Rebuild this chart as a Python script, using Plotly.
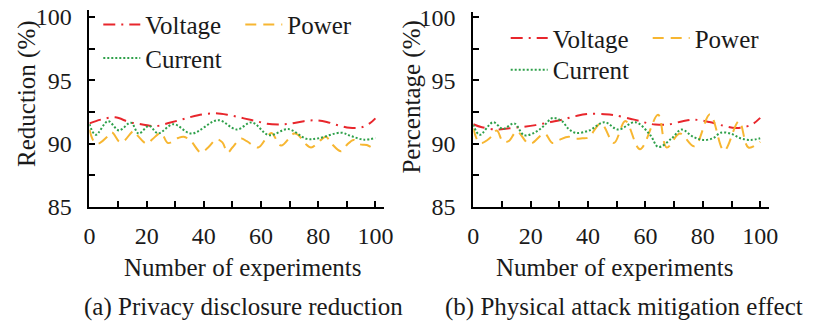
import plotly.graph_objects as go

W, H = 821, 328

# ---------------- data: panel (a) Privacy disclosure reduction ----------------
volt_a_x = [0, 4, 9, 14, 19, 23, 28, 33, 38, 44, 49, 54, 58, 62, 66, 70, 75, 79, 83, 87, 91, 95, 98, 100]
volt_a_y = [91.6, 91.9, 92.08, 91.7, 91.5, 91.38, 91.65, 91.95, 92.25, 92.4, 92.25, 92.0, 91.8, 91.58,
            91.52, 91.57, 91.78, 91.85, 91.72, 91.45, 91.25, 91.28, 91.6, 92.0]

cur_a_x = [0, 2.2, 6.5, 10.3, 14.5, 17.2, 20.8, 24, 29.4, 35.7, 45, 51.5, 56.8, 62.8, 69.5, 76, 80, 88,
           91.5, 96, 100]
cur_a_y = [91.54, 90.7, 91.78, 91.05, 91.66, 90.8, 91.41, 90.82, 91.54, 90.8, 91.86, 91.12, 91.68, 90.67,
           91.15, 90.38, 90.42, 90.87, 90.6, 90.32, 90.45]

pow_a_x = [0, 1.5, 3, 6, 7.8, 10.5, 12, 15.5, 17, 20, 22, 25, 27.5, 31, 33, 35.5, 39, 41.5, 44.5, 46.5,
           48.3, 50, 53, 55, 59, 62, 63.7, 67, 71.5, 73, 75.5, 77.5, 80, 82.7, 84.5, 88, 90, 92.4, 94.7,
           97, 100]
pow_a_y = [91.1, 90.2, 90.0, 90.5, 90.9, 90.15, 90.2, 91.0, 90.6, 90.0, 90.35, 90.85, 90.05, 90.45,
           90.55, 90.2, 89.3, 89.7, 90.35, 90.1, 89.3, 89.7, 90.4, 90.2, 89.7, 90.5, 90.85, 89.85, 90.8,
           90.7, 90.0, 89.7, 90.1, 90.55, 90.05, 89.4, 89.9, 90.3, 89.95, 89.9, 89.5]

# ---------------- data: panel (b) Physical attack mitigation effect ----------------
volt_b_x = [0, 3, 8.6, 12.6, 17.7, 21.7, 26.9, 31, 36, 40, 45.7, 49, 55, 58.3, 61, 63.4, 68, 73, 77,
            82.3, 86.3, 91.4, 95.4, 97.7, 100]
volt_b_y = [91.54, 91.3, 91.12, 91.22, 91.34, 91.47, 91.71, 91.9, 92.2, 92.35, 92.33, 92.26, 91.96,
            91.78, 91.6, 91.52, 91.52, 91.78, 91.9, 91.71, 91.47, 91.24, 91.37, 91.6, 92.04]

cur_b_x = [0, 2.2, 6.9, 10.3, 14.3, 17.7, 21.7, 24.6, 27.6, 30.9, 33.2, 35.8, 40.3, 45.7, 50.5, 56.5,
           61.7, 64.5, 69.2, 72.6, 76.6, 80, 83.5, 86.3, 89.7, 93.1, 96.6, 100]
cur_b_y = [91.5, 90.7, 91.7, 91.17, 91.6, 90.67, 90.92, 91.41, 92.03, 91.78, 91.17, 90.85, 91.04, 91.7,
           91.12, 91.7, 90.67, 89.74, 90.43, 91.12, 90.55, 90.3, 90.43, 90.87, 90.8, 90.43, 90.3, 90.43]

pow_b_x = [0, 1.7, 3, 5.7, 8.2, 10.3, 12.3, 15.2, 18.9, 20.5, 24.8, 27.6, 30, 33.2, 35.5, 38, 40.2,
           44.5, 49, 53, 58.1, 64.4, 67.4, 72, 77.1, 82.5, 87.4, 92.6, 95.9, 100]
pow_b_y = [91.2, 90.18, 90.06, 90.43, 91.04, 90.18, 90.2, 90.97, 90.06, 90.05, 90.8, 90.06, 90.3,
           90.55, 90.4, 90.43, 90.5, 91.6, 90.06, 91.8, 89.56, 92.28, 89.7, 90.8, 89.8, 92.32, 89.45,
           91.78, 89.7, 90.15]

x_tickvals = [0, 10, 20, 30, 40, 50, 60, 70, 80, 90, 100]
x_ticktext = ["0", "", "20", "", "40", "", "60", "", "80", "", "100"]
y_tickvals = [85, 87.5, 90, 92.5, 95, 97.5, 100]
y_ticktext = ["85", "", "90", "", "95", "", "100"]

RED = "#E8262C"
YEL = "#F7B631"
GRN = "#2EA04A"
FONT = "'Liberation Serif', 'Times New Roman', Times, serif"
TXT = "#1a1a1a"

fig = go.Figure()

def add_panel(xa, ya, vx, vy, px, py, cx, cy, lg1, lg2):
    fig.add_trace(go.Scatter(x=vx, y=vy, name="Voltage", mode="lines", xaxis=xa, yaxis=ya,
                             line=dict(color=RED, width=2, dash="12px,6px,2px,6px", shape="spline"),
                             legend=lg1))
    fig.add_trace(go.Scatter(x=px, y=py, name="Power", mode="lines", xaxis=xa, yaxis=ya,
                             line=dict(color=YEL, width=2, dash="11px,7px", shape="spline"),
                             legend=lg1))
    fig.add_trace(go.Scatter(x=cx, y=cy, name="Current", mode="lines", xaxis=xa, yaxis=ya,
                             line=dict(color=GRN, width=2, dash="2px,2px", shape="spline"),
                             legend=lg2))

add_panel("x", "y", volt_a_x, volt_a_y, pow_a_x, pow_a_y, cur_a_x, cur_a_y, "legend", "legend2")
add_panel("x2", "y2", volt_b_x, volt_b_y, pow_b_x, pow_b_y, cur_b_x, cur_b_y, "legend3", "legend4")

axis_common = dict(showline=True, linecolor="black", linewidth=2, ticks="inside", ticklen=6,
                   tickwidth=1.5, tickcolor="black", showgrid=False, zeroline=False,
                   ticklabeloverflow="allow",
                   tickfont=dict(family=FONT, size=24, color=TXT))

fig.update_layout(
    width=W, height=H, margin=dict(l=0, r=0, t=0, b=0),
    paper_bgcolor="white", plot_bgcolor="white",
    xaxis=dict(domain=[85 / W, 385 / W], range=[0, 103], tickvals=x_tickvals, ticktext=x_ticktext,
               ticklabelstandoff=6, anchor="y", **axis_common),
    yaxis=dict(domain=[1 - 213 / H, 1 - 3 / H], range=[85, 100.57], tickvals=y_tickvals,
               ticktext=y_ticktext, ticklabelstandoff=11, anchor="x", **axis_common),
    xaxis2=dict(domain=[476 / W, 777 / W], range=[0, 103], tickvals=x_tickvals, ticktext=x_ticktext,
                ticklabelstandoff=6, anchor="y2", **axis_common),
    yaxis2=dict(domain=[1 - 213 / H, 1 - 5 / H], range=[85, 100.43], tickvals=y_tickvals,
                ticktext=y_ticktext, ticklabelstandoff=11, anchor="x2", **axis_common),
)

leg_common = dict(orientation="h", xanchor="left", yanchor="middle", bgcolor="rgba(0,0,0,0)",
                  font=dict(family=FONT, size=25, color=TXT), itemwidth=37,
                  entrywidth=90, entrywidthmode="pixels", tracegroupgap=0)
fig.update_layout(
    legend=dict(x=94 / W, y=1 - 19 / H, **leg_common),
    legend2=dict(x=94 / W, y=1 - 54.5 / H, **leg_common),
    legend3=dict(x=509 / W, y=1 - 33.3 / H, **leg_common),
    legend4=dict(x=509 / W, y=1 - 67 / H, **leg_common),
)

def ann(text, x, y, size=25, angle=0):
    fig.add_annotation(text=text, x=x / W, y=1 - y / H, xref="paper", yref="paper",
                       showarrow=False, xanchor="center", yanchor="middle", textangle=angle,
                       font=dict(family=FONT, size=size, color=TXT))

ann("Reduction (%)", 22, 93, angle=-90)
ann("Percentage (%)", 414, 96, angle=-90)
ann("Number of experiments", 241, 277)
ann("Number of experiments", 620, 277)
ann("(a) Privacy disclosure reduction", 242, 319)
ann("(b) Physical attack mitigation effect", 630, 319)

fig.write_html("out.html")
